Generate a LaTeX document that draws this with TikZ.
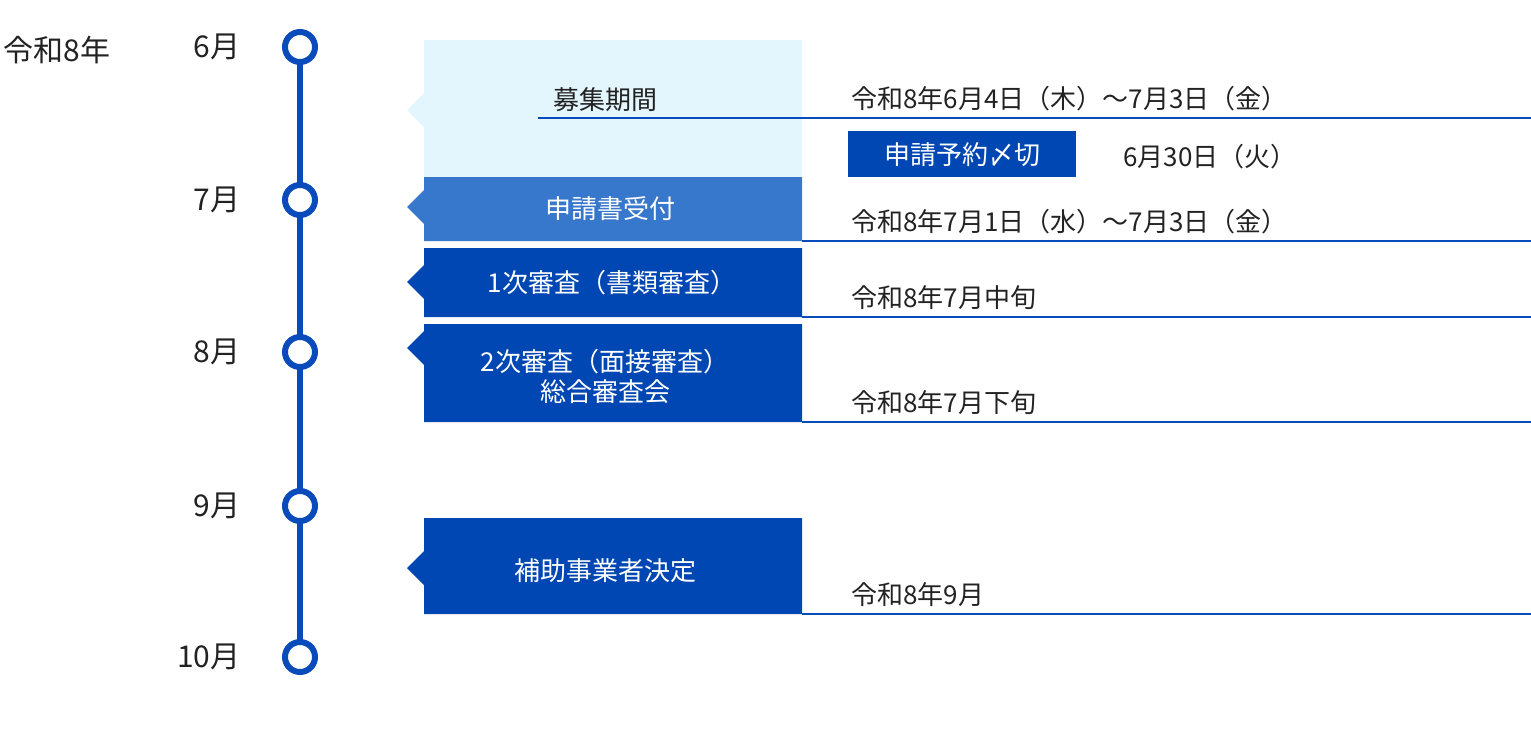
\documentclass[tikz,border=0pt]{standalone}
\usepackage{fontspec}
\setmainfont{Noto Sans CJK JP}
\definecolor{tl}{HTML}{0A4BBB}
\definecolor{lb}{HTML}{E3F5FD}
\definecolor{mb}{HTML}{3777CC}
\definecolor{db}{HTML}{0047B3}
\definecolor{tx}{HTML}{222222}
\begin{document}
\begin{tikzpicture}[x=1pt,y=-1pt,
  mon/.style={font=\fontsize{30}{32}\selectfont,text=tx,anchor=east},
  dot/.style={circle,draw=tl,line width=6pt,fill=white,minimum size=30pt,inner sep=0},
  lbl/.style={font=\fontsize{26}{32}\selectfont,text=tx,anchor=base west},
  btx/.style={font=\fontsize{26}{32}\selectfont,text=white,align=center},
  rule/.style={draw=tl,line width=1.5pt}]
\useasboundingbox (0,0) rectangle (1531,736);
\draw[tl,line width=6pt] (300,47) -- (300,657);
\foreach \y/\m/\n in {47/6月/m6,200/7月/m7,352/8月/m8,506/9月/m9,657/10月/m10}{
  \node[dot] (c\n) at (300,\y) {};
  \node[mon] (\n) at (244,\y) {\m};
}
\node[mon,anchor=west] (yr) at (0,50) {令和8年};
% boxes
\fill[lb] (424,40) -- (802,40) -- (802,177) -- (424,177) -- (424,127) -- (407,110) -- (424,93) -- cycle;
\fill[mb] (424,177) -- (802,177) -- (802,241) -- (424,241) -- (424,224) -- (407,207) -- (424,190) -- cycle;
\fill[db] (424,248) -- (802,248) -- (802,317) -- (424,317) -- (424,299) -- (407,282) -- (424,265) -- cycle;
\fill[db] (424,324) -- (802,324) -- (802,422) -- (424,422) -- (424,365) -- (407,348) -- (424,331) -- cycle;
\fill[db] (424,518) -- (802,518) -- (802,614) -- (424,614) -- (424,585) -- (407,568) -- (424,551) -- cycle;
\node[lbl,anchor=base] (b1) at (605,109) {募集期間};
\node[btx] (b2) at (610,209) {申請書受付};
\node[btx] (b3) at (612,283) {1次審査（書類審査）};
\node[btx,font=\fontsize{26}{30}\selectfont] (b4) at (605,376) {2次審査（面接審査）\\総合審査会};
\node[btx] (b5) at (605,571) {補助事業者決定};
% rules
\coordinate (r1a) at (538,118); \coordinate (r1b) at (1531,118);
\draw[rule] (r1a) -- (r1b);
\coordinate (r2a) at (802,241); \coordinate (r2b) at (1531,241);
\draw[rule] (r2a) -- (r2b);
\coordinate (r3a) at (802,317); \coordinate (r3b) at (1531,317);
\draw[rule] (r3a) -- (r3b);
\coordinate (r4a) at (802,422); \coordinate (r4b) at (1531,422);
\draw[rule] (r4a) -- (r4b);
\coordinate (r5a) at (802,614); \coordinate (r5b) at (1531,614);
\draw[rule] (r5a) -- (r5b);
\fill[db] (848,131) rectangle (1076,177);
\node[btx] (dl) at (962,155) {申請予約〆切};
\node[lbl] (t0) at (848,108) {令和8年6月4日（木）～7月3日（金）};
\node[lbl] (t1) at (1120,166) {6月30日（火）};
\node[lbl] (t2) at (848,231) {令和8年7月1日（水）～7月3日（金）};
\node[lbl] (t3) at (848,307) {令和8年7月中旬};
\node[lbl] (t4) at (848,412) {令和8年7月下旬};
\node[lbl] (t5) at (848,604) {令和8年9月};
\end{tikzpicture}
\end{document}
